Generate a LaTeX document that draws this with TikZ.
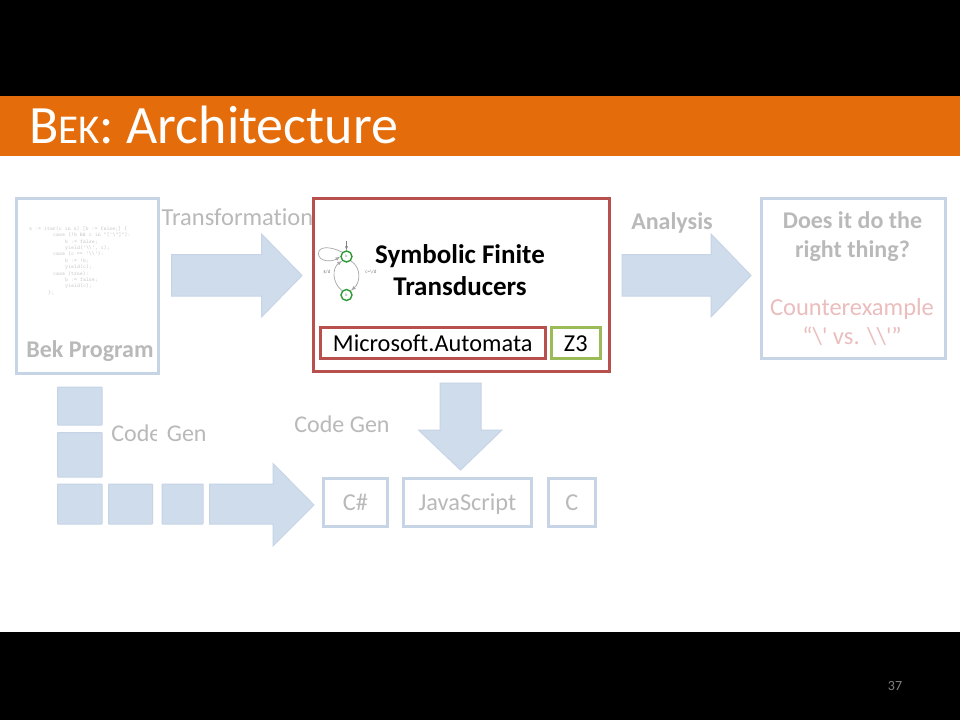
\documentclass[tikz,border=0pt]{standalone}
\usepackage{fontspec}
\setmainfont{Carlito}[Ligatures=NoCommon]
\newfontfamily\quotefont{Carlito}[Ligatures=NoCommon]
\usepackage{tikz}
\definecolor{bandorange}{HTML}{E46C0A}
\definecolor{paleblue}{HTML}{CFDCEC}
\definecolor{paleedge}{HTML}{C6D4E6}
\definecolor{fadetext}{HTML}{B9B9B9}
\definecolor{fadered}{HTML}{EBBDBD}
\definecolor{redbox}{HTML}{B8504E}
\definecolor{greenbox}{HTML}{9BBB59}
\definecolor{stategreen}{HTML}{2E9A35}
\tikzset{
  fadebox/.style={draw=paleedge,line width=3pt,fill=white,inner sep=0pt},
  redframe/.style={draw=redbox,line width=3pt,fill=white,inner sep=0pt},
  blockshape/.style={fill=paleblue,draw=paleedge,line width=1pt,rounded corners=.5pt},
  blockarrow/.style={fill=paleblue,draw=paleedge,line width=1pt,line join=miter},
  fadelabel/.style={text=fadetext,font=\fontsize{24}{29}\selectfont},
  boxlabel/.style={text height=12pt,text depth=0pt,yshift=-2.5pt,font=\fontsize{24.3}{29}\selectfont},
  statenode/.style={circle,draw=stategreen,line width=1.4pt,fill=white,minimum size=11pt,inner sep=0pt,text=gray,font=\fontsize{4}{4}\selectfont},
  tinylabel/.style={text=gray,font=\fontsize{5}{5}\selectfont,inner sep=0pt},
  codeline/.style={text=black!22,anchor=west,inner sep=0pt,font=\ttfamily\fontsize{5.6}{6}\selectfont}
}
\begin{document}
\begin{tikzpicture}[x=1pt,y=-1pt]
\useasboundingbox (0,0) rectangle (960,720);
\fill[white] (0,0) rectangle (960,720);
% bands
\fill[black] (0,0) rectangle (960,96);
\fill[bandorange] (0,96) rectangle (960,155.5);
\fill[black] (0,632) rectangle (960,720);
\node[text=white,anchor=base west,inner sep=0pt] (title) at (29,143) {\fontsize{54}{60}\selectfont B{\fontsize{41}{50}\selectfont EK}: Architecture};
\node[text=gray,inner sep=0pt] (pagenum) at (895,686) {\fontsize{14}{16}\selectfont 37};
% top row
\draw[fadebox] (16.5,198.5) rectangle (158,373.5);
\node[codeline] (code1) at (29,229) {s := iter(c in s) [b := false;] \{};
\node[codeline] (code2) at (53,235) {case (!b \&\& c in "['\textbackslash"]"):};
\node[codeline] (code3) at (65,242.5) {b := false;};
\node[codeline] (code4) at (65,248) {yield('\textbackslash\textbackslash', c);};
\node[codeline] (code5) at (53,254) {case (c == '\textbackslash\textbackslash'):};
\node[codeline] (code6) at (65,261) {b := !b;};
\node[codeline] (code7) at (65,267) {yield(c);};
\node[codeline] (code8) at (53,273.5) {case (true):};
\node[codeline] (code9) at (65,280.5) {b := false;};
\node[codeline] (code10) at (65,286.5) {yield(c);};
\node[codeline] (code11) at (48,293) {\};};
\node[text=fadetext,inner sep=0pt] (bekprog) at (90,351) {\fontsize{24}{29}\selectfont\bfseries Bek Program};
\node[text=fadetext,inner sep=0pt,font=\fontsize{24.5}{29}\selectfont] (transform) at (237.5,217) {Transformation};
\draw[blockarrow] (171.5,254.5)--(261.5,254.5)--(261.5,234)--(302,275.5)--(261.5,317)--(261.5,296)--(171.5,296)--cycle;
\draw[redframe] (313,198.5) rectangle (609,371);
\node[inner sep=0pt,align=center,font=\fontsize{27}{32}\selectfont\bfseries] (sft) at (460,270.5) {Symbolic Finite\\Transducers};
\draw[redframe] (320.5,327.5) rectangle (545,358) node[midway,boxlabel,text=black] (msauto) {Microsoft.Automata};
\draw[draw=greenbox,line width=3pt,fill=white] (551.5,327.5) rectangle (600,358) node[midway,boxlabel,text=black] (zthree) {Z3};
% small automaton
\node[statenode] (qzero) at (346.5,256.5) {b};
\node[statenode] (qone) at (346.5,295) {b};
\coordinate (qstart) at (346.5,241);
\draw[gray,line width=.4pt,-latex] (qstart)--(qzero);
\draw[gray!70,line width=.7pt,-latex] (qzero.south east) .. controls (362,268) and (360,283) .. (qone.north east);
\draw[gray!70,line width=.7pt,-latex] (qone.north west) .. controls (332,283) and (332,268) .. (qzero.south west);
\draw[gray!70,line width=.7pt,-latex] (qzero.north west) .. controls (330,246) and (318,246) .. (318.5,254) .. controls (319,262) and (332,262) .. (qzero.west);
\node[tinylabel] (lblleft) at (327,272) {\$/d};
\node[tinylabel] (lblright) at (371,272) {c=\textbackslash/d};
% analysis
\node[text=fadetext,inner sep=0pt] (analysis) at (672,223) {\fontsize{24}{29}\selectfont\bfseries Analysis};
\draw[blockarrow] (622,254.5)--(711,254.5)--(711,234)--(751,275.5)--(711,317)--(711,296)--(622,296)--cycle;
\draw[fadebox] (761,198.5) rectangle (945,358);
\node[text=fadetext,inner sep=0pt,align=center,font=\fontsize{24}{29}\selectfont\bfseries] (question) at (852.5,236.5) {Does it do the\\right thing?};
\node[text=fadered,inner sep=0pt,align=center,font=\fontsize{24.5}{29}\quotefont\selectfont] (counter) at (852,322.5) {Counterexample\\“\textbackslash' vs. \textbackslash\textbackslash'”};
% down arrow
\draw[blockarrow] (440,383)--(481,383)--(481,430)--(502,430)--(460.5,470)--(418.5,430)--(440,430)--cycle;
\node[fadelabel,inner sep=0pt] (codegenb) at (342,424) {Code Gen};
% squares
\draw[blockshape] (57.5,387) rectangle (102,425);
\draw[blockshape] (57.5,432.5) rectangle (102,477);
\draw[blockshape] (57.5,484) rectangle (102,524);
\draw[blockshape] (108.5,484) rectangle (152.5,524);
\draw[blockshape] (162,484) rectangle (203,524);
\node[fadelabel,inner sep=0pt] (codegena) at (159,433) {Code Gen};
\fill[white] (157,422) rectangle (160.5,444);
\draw[blockarrow] (209.5,484)--(273,484)--(273,463.5)--(314,505)--(273,546)--(273,524)--(209.5,524)--cycle;
% targets
\draw[fadebox] (323.5,478.5) rectangle (387.5,526) node[midway,boxlabel,text=fadetext] (csharp) {C\#};
\draw[fadebox] (403.5,478.5) rectangle (531.5,526) node[midway,boxlabel,text=fadetext] (jscript) {JavaScript};
\draw[fadebox] (548,478.5) rectangle (595.5,526) node[midway,boxlabel,text=fadetext] (clang) {C};
\end{tikzpicture}
\end{document}
